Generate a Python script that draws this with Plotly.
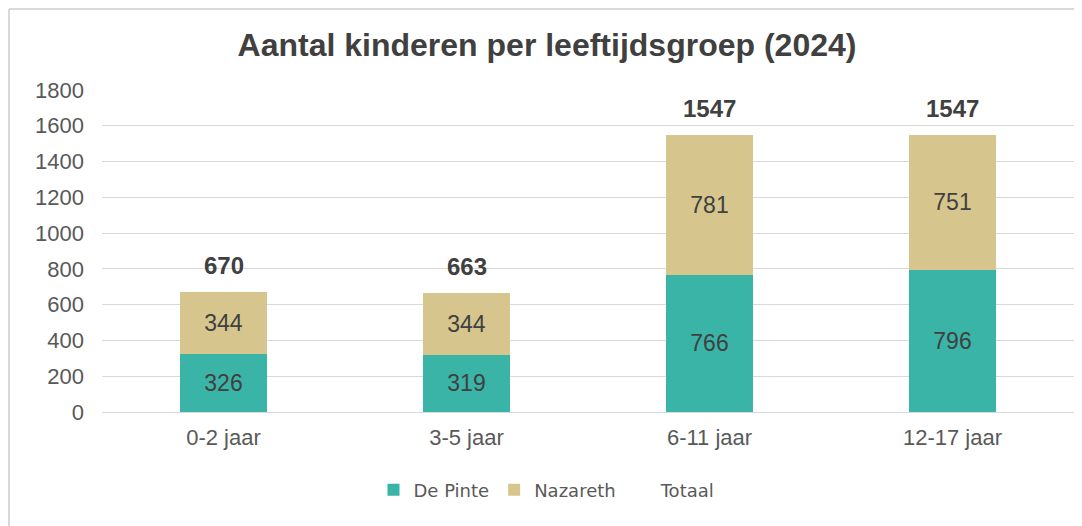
import plotly.graph_objects as go

categories = ["0-2 jaar", "3-5 jaar", "6-11 jaar", "12-17 jaar"]
de_pinte = [326, 319, 766, 796]
nazareth = [344, 344, 781, 751]
totaal = [670, 663, 1547, 1547]

TEAL = "#3AB4A7"
TAN = "#D6C68D"
FONT = "Liberation Sans, Arial, sans-serif"

fig = go.Figure()
fig.add_trace(go.Bar(
    name="De Pinte", x=categories, y=de_pinte, marker=dict(color=TEAL, line=dict(width=0)),
    text=[str(v) for v in de_pinte], textposition="inside", insidetextanchor="middle",
    textfont=dict(family=FONT, size=23, color="#404040"), hoverinfo="skip",
))
fig.add_trace(go.Bar(
    name="Nazareth", x=categories, y=nazareth, marker=dict(color=TAN, line=dict(width=0)),
    text=[str(v) for v in nazareth], textposition="inside", insidetextanchor="middle",
    textfont=dict(family=FONT, size=23, color="#404040"), hoverinfo="skip",
))
fig.add_trace(go.Bar(
    name="Totaal", x=categories, y=[0] * len(categories),
    marker=dict(color="rgba(0,0,0,0)", line=dict(width=0)), hoverinfo="skip",
))

for c, t in zip(categories, totaal):
    fig.add_annotation(
        x=c, y=t, text=f"<b>{t}</b>", showarrow=False, yanchor="bottom", yshift=11,
        font=dict(family=FONT, size=24, color="#404040"),
    )

# page has an 8px body margin, so the figure is placed at (8, 8)
W, H = 1074, 518
L, R, T, B = 94, 8, 82, 114
pw = W - L - R
ph = H - T - B

# frame (top and left edges)
fig.add_shape(type="line", xref="paper", yref="paper",
              x0=(1 - L) / pw, x1=(W - L) / pw, y0=(H - B - 1) / ph, y1=(H - B - 1) / ph,
              line=dict(color="#D9D9D9", width=2))
fig.add_shape(type="line", xref="paper", yref="paper",
              x0=(1 - L) / pw, x1=(1 - L) / pw, y0=(H - B - 1) / ph, y1=(H - B - H) / ph,
              line=dict(color="#D9D9D9", width=2))

fig.update_layout(
    width=W, height=H,
    margin=dict(l=L, r=R, t=T, b=B),
    barmode="stack", bargap=0.646,
    paper_bgcolor="white", plot_bgcolor="white",
    title=dict(text="<b>Aantal kinderen per leeftijdsgroep (2024)</b>",
               x=539 / W, xanchor="center", y=1 - 37 / H, yanchor="middle",
               font=dict(family=FONT, size=32, color="#404040")),
    font=dict(family=FONT, color="#595959"),
    xaxis=dict(tickfont=dict(family=FONT, size=22, color="#595959"),
               showline=True, linecolor="#D9D9D9", linewidth=1, ticks="",
               ticklabelstandoff=6),
    yaxis=dict(range=[0, 1800], dtick=200, tickfont=dict(family=FONT, size=22, color="#595959"),
               gridcolor="#D9D9D9", gridwidth=1, zeroline=False, ticks="", ticklabelstandoff=17),
    legend=dict(orientation="h", x=(539 - L) / pw, xanchor="center",
                y=(H - B - 482) / ph, yanchor="middle",
                font=dict(family="DejaVu Sans, sans-serif", size=18, color="#595959"),
                traceorder="normal", itemwidth=30),
    showlegend=True,
)

fig.write_html("out.html")
